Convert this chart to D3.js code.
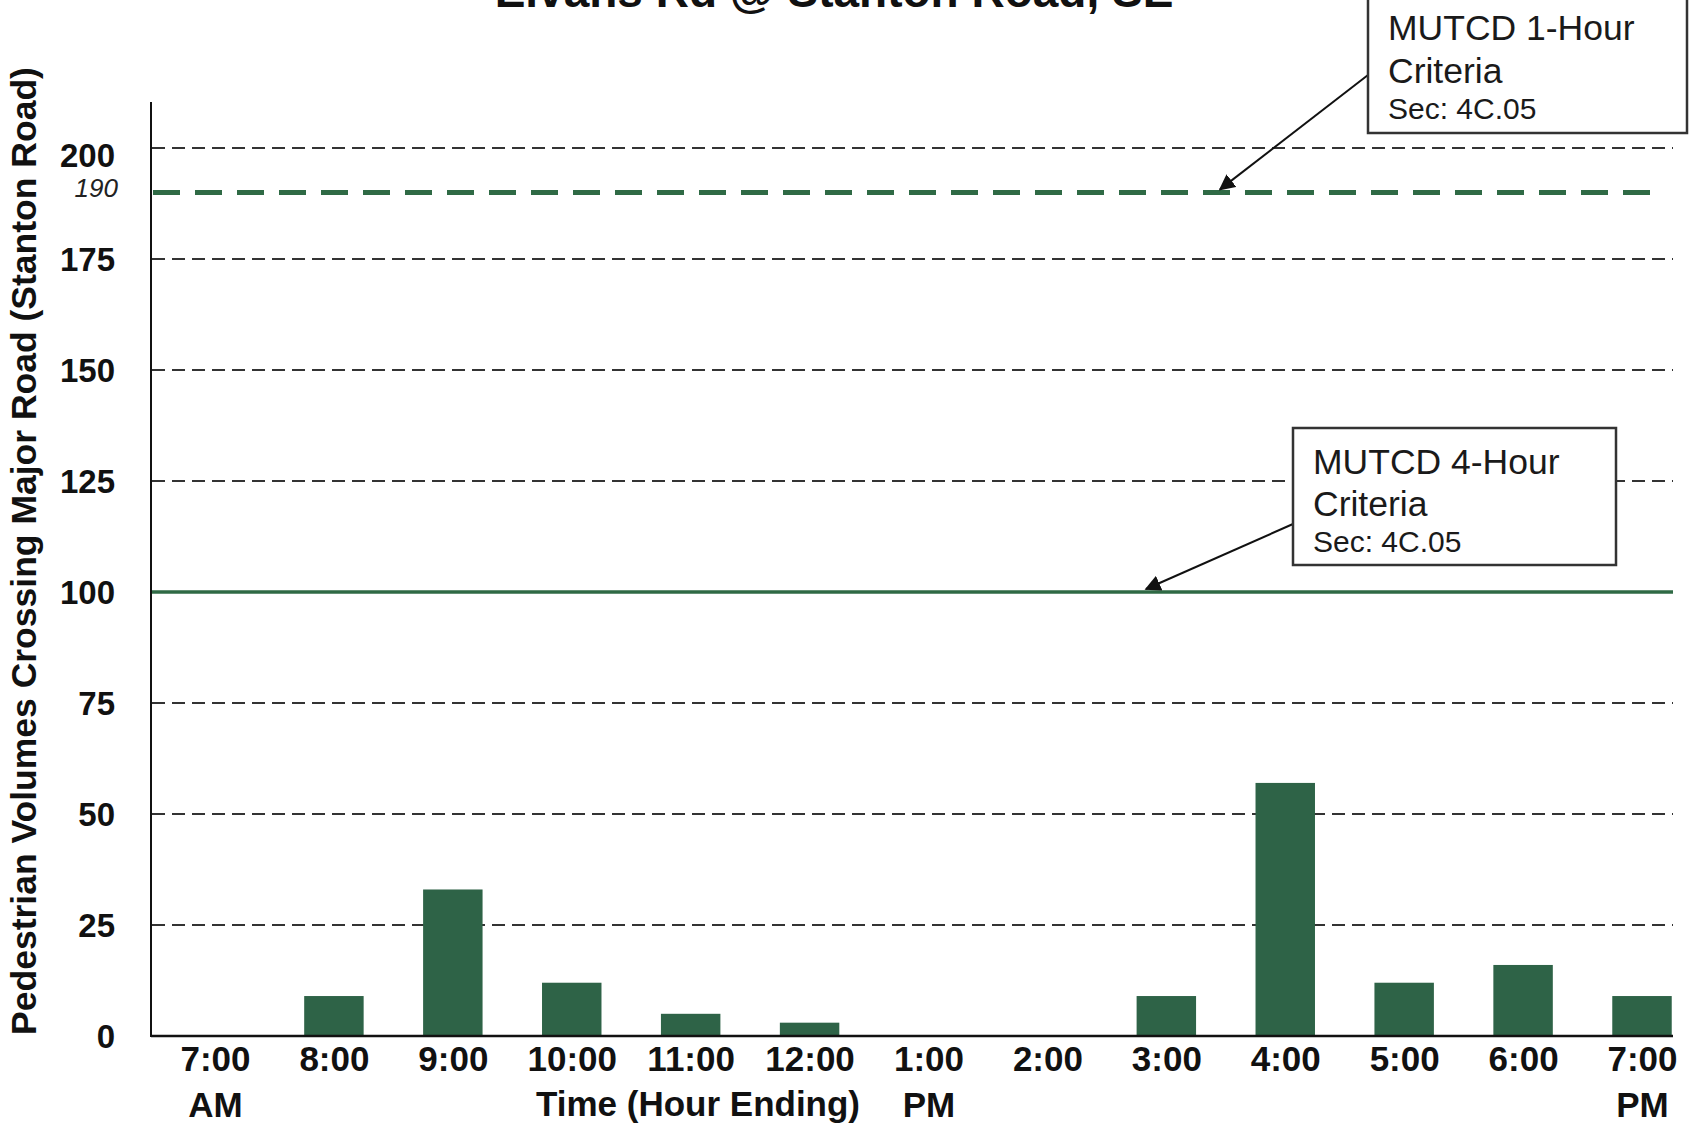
<!DOCTYPE html>
<html>
<head>
<meta charset="utf-8">
<script src="https://cdn.jsdelivr.net/npm/d3@7"></script>
<style>
  html, body { margin: 0; padding: 0; background: #fff; }
  svg { display: block; }
  text { font-family: "Liberation Sans", Arial, sans-serif; }
</style>
</head>
<body>
<script>
// ---------- data ----------
const titleText = "Elvans Rd @ Stanton Road, SE";
const categories = ["7:00 AM","8:00","9:00","10:00","11:00","12:00","1:00 PM","2:00","3:00","4:00","5:00","6:00","7:00 PM"];
const tickLine1 = ["7:00","8:00","9:00","10:00","11:00","12:00","1:00","2:00","3:00","4:00","5:00","6:00","7:00"];
const tickLine2 = ["AM","","","","","","PM","","","","","","PM"];
const volumes = [0, 9, 33, 12, 5, 3, 0, 0, 9, 57, 12, 16, 9];
const yTicks = [0, 25, 50, 75, 100, 125, 150, 175, 200];
const criteria1Hour = 190;
const criteria4Hour = 100;
const yTitle = "Pedestrian Volumes Crossing Major Road (Stanton Road)";
const xTitle = "Time (Hour Ending)";
const note1Lines = ["MUTCD 1-Hour", "Criteria", "Sec: 4C.05"];
const note2Lines = ["MUTCD 4-Hour", "Criteria", "Sec: 4C.05"];

// ---------- layout ----------
const W = 1690, H = 1126;
const plotLeft = 151, plotRight = 1673, plotBottom = 1036, axisTop = 102;
const barColor = "#2e6347";
const lineGreen = "#2f6a45";

const svg = d3.select("body").append("svg")
  .attr("width", W).attr("height", H);

const x = d3.scalePoint().domain(categories).range([215, 1642]);
const barW = x.step() * 0.5;
const y = d3.scaleLinear().domain([0, 200]).range([plotBottom, 148]);

// title (top half clipped by the page edge, as in the reference)
svg.append("text")
  .attr("x", 834).attr("y", 7)
  .attr("text-anchor", "middle")
  .attr("font-size", 46).attr("font-weight", "bold").attr("fill", "#111")
  .text(titleText);

// gridlines
svg.append("g").selectAll("line")
  .data(yTicks.filter(d => d !== 0))
  .join("line")
  .attr("x1", plotLeft + 1).attr("x2", plotRight)
  .attr("y1", d => y(d)).attr("y2", d => y(d))
  .attr("stroke", "#333").attr("stroke-width", 2)
  .attr("stroke-dasharray", "13,7");

// 4-hour criteria line
svg.append("line")
  .attr("x1", plotLeft).attr("x2", plotRight)
  .attr("y1", y(criteria4Hour)).attr("y2", y(criteria4Hour))
  .attr("stroke", lineGreen).attr("stroke-width", 3.5);

// 1-hour criteria line
svg.append("line")
  .attr("x1", plotLeft + 2).attr("x2", 1665)
  .attr("y1", y(criteria1Hour)).attr("y2", y(criteria1Hour))
  .attr("stroke", lineGreen).attr("stroke-width", 5)
  .attr("stroke-dasharray", "27,15");

// bars
svg.append("g").selectAll("rect")
  .data(volumes.map((v, i) => ({ c: categories[i], v })))
  .join("rect")
  .attr("x", d => x(d.c) - barW / 2)
  .attr("width", barW)
  .attr("y", d => y(d.v))
  .attr("height", d => y(0) - y(d.v))
  .attr("fill", barColor);

// axes lines
svg.append("line")
  .attr("x1", plotLeft).attr("x2", plotLeft)
  .attr("y1", axisTop).attr("y2", plotBottom + 1)
  .attr("stroke", "#111").attr("stroke-width", 2);
svg.append("line")
  .attr("x1", plotLeft).attr("x2", plotRight)
  .attr("y1", plotBottom).attr("y2", plotBottom)
  .attr("stroke", "#111").attr("stroke-width", 2.5);

// y axis labels
const yAxis = svg.append("g")
  .attr("transform", `translate(${plotLeft},0)`)
  .call(d3.axisLeft(y).tickValues(yTicks).tickSize(0).tickPadding(36));
yAxis.select(".domain").remove();
yAxis.selectAll("text")
  .attr("font-family", "Liberation Sans, Arial, sans-serif")
  .attr("font-size", 33).attr("font-weight", "bold").attr("fill", "#111")
  .attr("dy", d => d === 200 ? "0.55em" : "0.36em");

// 190 label
svg.append("text")
  .attr("x", 118).attr("y", y(criteria1Hour) + 5)
  .attr("text-anchor", "end")
  .attr("font-size", 26).attr("font-style", "italic").attr("fill", "#222")
  .text(String(criteria1Hour));

// x axis labels
const xAxis = svg.append("g")
  .attr("transform", `translate(0,${plotBottom})`)
  .call(d3.axisBottom(x).tickSize(0).tickPadding(10).tickFormat((d, i) => tickLine1[i]));
xAxis.select(".domain").remove();
xAxis.selectAll("text")
  .attr("font-family", "Liberation Sans, Arial, sans-serif")
  .attr("font-size", 35).attr("font-weight", "bold").attr("fill", "#111");
xAxis.selectAll(".tick").each(function (d, i) {
  if (tickLine2[i]) {
    d3.select(this).append("text")
      .attr("y", 10).attr("dy", "2.03em")
      .attr("text-anchor", "middle")
      .attr("font-family", "Liberation Sans, Arial, sans-serif")
      .attr("font-size", 35).attr("font-weight", "bold").attr("fill", "#111")
      .text(tickLine2[i]);
  }
});

// axis titles
svg.append("text")
  .attr("x", 698).attr("y", 1116)
  .attr("text-anchor", "middle")
  .attr("font-size", 35).attr("font-weight", "bold").attr("fill", "#111")
  .text(xTitle);
svg.append("text")
  .attr("transform", `translate(36,551) rotate(-90)`)
  .attr("text-anchor", "middle")
  .attr("font-size", 35.5).attr("font-weight", "bold").attr("fill", "#111")
  .text(yTitle);

// arrow marker
svg.append("defs").append("marker")
  .attr("id", "arrow").attr("viewBox", "0 0 10 10")
  .attr("refX", 9).attr("refY", 5)
  .attr("markerWidth", 16).attr("markerHeight", 16)
  .attr("markerUnits", "userSpaceOnUse")
  .attr("orient", "auto")
  .append("path").attr("d", "M0,0 L10,5 L0,10 Z").attr("fill", "#111");

// annotation 1
svg.append("line")
  .attr("x1", 1368).attr("y1", 75)
  .attr("x2", 1220).attr("y2", y(criteria1Hour) - 3)
  .attr("stroke", "#111").attr("stroke-width", 2)
  .attr("marker-end", "url(#arrow)");
svg.append("rect")
  .attr("x", 1368).attr("y", -10).attr("width", 319).attr("height", 143)
  .attr("fill", "#fff").attr("stroke", "#333").attr("stroke-width", 2.5);
const n1 = svg.append("g");
[[40, 35.5], [83, 35.5], [119, 30]].forEach(([by, fs], i) => {
  n1.append("text").attr("x", 1388).attr("y", by)
    .attr("font-size", fs).attr("fill", "#1a1a1a").text(note1Lines[i]);
});

// annotation 2
svg.append("line")
  .attr("x1", 1293).attr("y1", 524)
  .attr("x2", 1146).attr("y2", y(criteria4Hour) - 3)
  .attr("stroke", "#111").attr("stroke-width", 2)
  .attr("marker-end", "url(#arrow)");
svg.append("rect")
  .attr("x", 1293).attr("y", 428).attr("width", 323).attr("height", 137)
  .attr("fill", "#fff").attr("stroke", "#333").attr("stroke-width", 2.5);
const n2 = svg.append("g");
[[474, 35.5], [516, 35.5], [552, 30]].forEach(([by, fs], i) => {
  n2.append("text").attr("x", 1313).attr("y", by)
    .attr("font-size", fs).attr("fill", "#1a1a1a").text(note2Lines[i]);
});
</script>
</body>
</html>
